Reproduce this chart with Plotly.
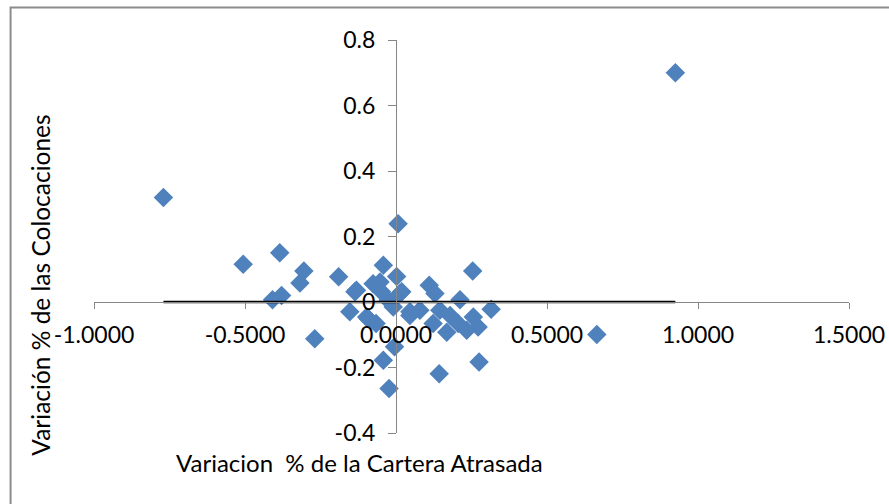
import plotly.graph_objects as go

# Variación % de la Cartera Atrasada (x) vs Variación % de las Colocaciones (y)
x_cartera = [0.925, -0.770, 0.007, -0.385, -0.506, -0.305, -0.318, -0.190, -0.409, -0.379,
             -0.042, 0.254, -0.269, -0.042, -0.023, 0.143, 0.275, 0.665, 0.315, -0.005,
             -0.131, -0.076, -0.048, 0.019, -0.026, -0.153, -0.097, -0.066, -0.009, 0.002,
             -0.053, -0.092, 0.110, 0.129, 0.212, 0.046, 0.079, 0.145, 0.123, 0.168,
             0.206, 0.256, 0.272, 0.234, 0.179, 0.013, -0.136, 0.046]
y_coloc = [0.700, 0.319, 0.239, 0.150, 0.115, 0.095, 0.058, 0.077, 0.007, 0.020,
           0.112, 0.095, -0.112, -0.178, -0.264, -0.219, -0.183, -0.099, -0.022, -0.137,
           0.036, 0.056, 0.031, 0.031, 0.005, -0.030, -0.046, -0.066, -0.015, 0.078,
           0.061, -0.051, 0.051, 0.026, 0.007, -0.041, -0.025, -0.025, -0.066, -0.092,
           -0.066, -0.046, -0.076, -0.086, -0.041, 0.026, 0.031, -0.030]

x_tickvals = [-1.0, -0.5, 0.0, 0.5, 1.0, 1.5]
x_ticktext = ["-1.0000", "-0.5000", "0.0000", "0.5000", "1.0000", "1.5000"]
y_tickvals = [-0.4, -0.2, 0.0, 0.2, 0.4, 0.6, 0.8]
y_ticktext = ["-0.4", "-0.2", "0", "0.2", "0.4", "0.6", "0.8"]

x_title = "Variacion  % de la Cartera Atrasada"
y_title = "Variación % de las Colocaciones"

x_range = [-1.0, 1.5]
y_range = [-0.4, 0.8]

fig = go.Figure()
fig.add_trace(go.Scatter(
    x=x_cartera, y=y_coloc, mode="markers",
    marker=dict(symbol="diamond", size=15, color="#4F81BD", line=dict(width=0)),
    showlegend=False, hoverinfo="x+y"))

# horizontal reference line spanning the data range at y = 0
fig.add_trace(go.Scatter(
    x=[min(x_cartera), max(x_cartera)], y=[0, 0], mode="lines",
    line=dict(color="black", width=2.5), showlegend=False, hoverinfo="skip"))

font_family = "Lato"
x_pos = (0 - x_range[0]) / (x_range[1] - x_range[0])
y_pos = (0 - y_range[0]) / (y_range[1] - y_range[0])

fig.update_layout(
    width=889, height=504,
    margin=dict(l=94, r=40, t=40, b=71),
    paper_bgcolor="white", plot_bgcolor="white",
    font=dict(family=font_family, size=23, color="black"),
    xaxis=dict(range=x_range, anchor="free", position=y_pos, automargin=False,
               tickvals=x_tickvals, ticktext=x_ticktext,
               showline=True, linecolor="#868686", linewidth=1.3,
               ticks="outside", ticklen=6, tickcolor="#868686", tickwidth=1.3,
               ticklabelstandoff=6,
               showgrid=False, zeroline=False,
               tickfont=dict(family=font_family, size=23, color="black")),
    yaxis=dict(range=y_range, anchor="free", position=x_pos, automargin=False,
               tickvals=y_tickvals, ticktext=y_ticktext,
               showline=True, linecolor="#868686", linewidth=1.3,
               ticks="outside", ticklen=8, tickcolor="#868686", tickwidth=1.3,
               ticklabelstandoff=8,
               showgrid=False, zeroline=False,
               tickfont=dict(family=font_family, size=23, color="black")),
    annotations=[
        dict(text=x_title, xref="paper", yref="paper", x=0.351, y=-0.074,
             xanchor="center", yanchor="middle", showarrow=False,
             font=dict(family=font_family, size=24, color="black")),
        dict(text=y_title, xref="paper", yref="paper", x=-0.071, y=0.376,
             xanchor="center", yanchor="middle", textangle=-90, showarrow=False,
             font=dict(family=font_family, size=24.5, color="black")),
    ],
    shapes=[
        dict(type="rect", xref="paper", yref="paper",
             x0=-0.1105, x1=1.3, y0=-0.4, y1=1.083,
             line=dict(color="#8c8c8c", width=2), fillcolor="rgba(0,0,0,0)", layer="below"),
    ],
)

fig.write_html("out.html")
